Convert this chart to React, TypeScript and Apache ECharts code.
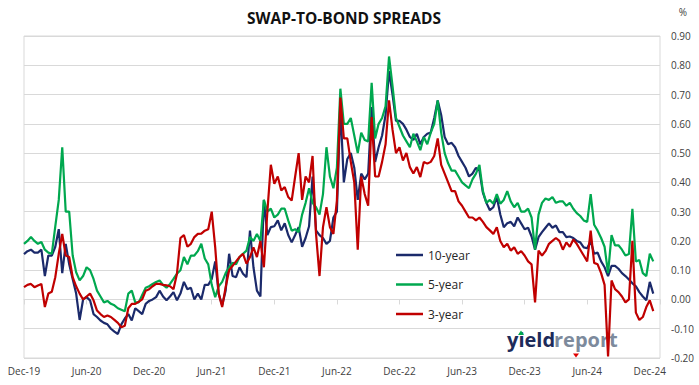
import React, { useEffect, useRef } from 'react';
import * as echarts from 'echarts';

// x axis: months since Dec-2019, one value every third of a month (~10 days)
const X_LABELS = ['Dec-19', 'Jun-20', 'Dec-20', 'Jun-21', 'Dec-21', 'Jun-22', 'Dec-22', 'Jun-23', 'Dec-23', 'Jun-24', 'Dec-24'];
const STEP_MONTHS = 1 / 3;
const SERIES_NAMES = ['10-year', '5-year', '3-year'];
const SERIES_COLORS = ['#1b2a6b', '#00a84f', '#c00000'];
const Y_TICKS = { min: -0.2, max: 0.9, interval: 0.1 };

const TEN_YEAR = [
  0.155, 0.165, 0.17, 0.16, 0.16, 0.17, 0.08, 0.15, 0.15, 0.18,
  0.24, 0.09, 0.19, 0.12, 0.07, 0.02, -0.07, 0.0, 0.008, -0.003,
  -0.05, -0.06, -0.072, -0.08, -0.085, -0.1, -0.11, -0.118, -0.085, -0.065,
  -0.05, -0.072, -0.03, -0.04, -0.05, -0.015, -0.005, 0.0, 0.008, 0.03,
  0.01, -0.003, 0.01, 0.025, -0.003, 0.02, 0.06, 0.035, 0.04, 0.0,
  0.02, 0.0, 0.05, 0.05, 0.07, 0.13, 0.02, -0.02, 0.03, 0.156,
  0.08, 0.076, 0.11, 0.088, 0.076, 0.235, 0.11, 0.03, 0.01, 0.34,
  0.22, 0.247, 0.25, 0.27, 0.236, 0.26, 0.22, 0.195, 0.22, 0.247,
  0.18, 0.21, 0.25, 0.42, 0.236, 0.22, 0.21, 0.19, 0.2, 0.28,
  0.3, 0.66, 0.4, 0.48, 0.5, 0.45, 0.34, 0.43, 0.41, 0.43,
  0.657, 0.47, 0.52, 0.56, 0.63, 0.78, 0.7, 0.61, 0.61, 0.6,
  0.58, 0.555, 0.545, 0.566, 0.53, 0.555, 0.566, 0.57, 0.62, 0.68,
  0.63, 0.555, 0.53, 0.535, 0.52, 0.49, 0.47, 0.45, 0.42, 0.43,
  0.45, 0.44, 0.365, 0.33, 0.305, 0.315, 0.35, 0.29, 0.247, 0.26,
  0.265, 0.25, 0.28, 0.26, 0.24, 0.245, 0.215, 0.17, 0.213, 0.23,
  0.245, 0.26, 0.245, 0.253, 0.23, 0.23, 0.213, 0.215, 0.21, 0.2,
  0.195, 0.178, 0.175, 0.2, 0.156, 0.16, 0.13, 0.11, 0.08, 0.115,
  0.115, 0.105, 0.09, 0.08, 0.068, 0.055, 0.045, 0.025, 0.01, -0.003,
  0.06, 0.02,
];

const FIVE_YEAR = [
  0.19, 0.2, 0.213, 0.2, 0.19, 0.196, 0.17, 0.16, 0.156, 0.25,
  0.34, 0.52, 0.3, 0.3, 0.15, 0.093, 0.065, 0.08, 0.11, 0.1,
  0.07, 0.03, 0.01, -0.01, -0.005, -0.015, -0.02, -0.03, -0.035, -0.04,
  0.02, 0.03, -0.01, -0.01, 0.015, 0.04, 0.045, 0.053, 0.06, 0.065,
  0.05, 0.04, 0.053, 0.07, 0.088, 0.1, 0.145, 0.12, 0.15, 0.15,
  0.165, 0.19, 0.14, 0.12, 0.05, 0.008, 0.045, 0.06, 0.09, 0.11,
  0.125, 0.12, 0.145, 0.156, 0.167, 0.213, 0.2, 0.224, 0.2, 0.34,
  0.3, 0.31, 0.28, 0.29, 0.31, 0.31, 0.27, 0.235, 0.24, 0.23,
  0.29, 0.33, 0.38, 0.33, 0.315, 0.29, 0.36, 0.52, 0.42, 0.38,
  0.45, 0.72, 0.6, 0.6, 0.62, 0.56, 0.5, 0.57, 0.545, 0.54,
  0.74, 0.55, 0.6, 0.62, 0.66, 0.83, 0.73, 0.62, 0.59, 0.56,
  0.54, 0.52, 0.566, 0.54, 0.51, 0.555, 0.53, 0.57, 0.6, 0.68,
  0.57, 0.5, 0.465, 0.44, 0.44, 0.42, 0.4, 0.39, 0.38, 0.41,
  0.43, 0.46, 0.37, 0.33, 0.34, 0.327, 0.36, 0.327, 0.34, 0.37,
  0.335, 0.315, 0.33, 0.3, 0.3, 0.31, 0.28, 0.17, 0.29, 0.33,
  0.345, 0.34, 0.35, 0.33, 0.335, 0.335, 0.32, 0.33, 0.31, 0.295,
  0.285, 0.27, 0.265, 0.36, 0.255, 0.235, 0.21, 0.18, 0.09, 0.22,
  0.185, 0.185, 0.17, 0.15, 0.155, 0.31, 0.13, 0.135, 0.09, 0.08,
  0.156, 0.13,
];

const THREE_YEAR = [
  0.042, 0.05, 0.053, 0.042, 0.048, 0.053, -0.026, 0.02, 0.026, 0.076,
  0.156, 0.224, 0.15, 0.145, 0.076, 0.045, 0.02, 0.0, 0.01, 0.02,
  -0.003, -0.038, -0.05, -0.06, -0.055, -0.06, -0.07, -0.08, -0.095, -0.09,
  -0.03, -0.015, -0.015, -0.008, 0.0, 0.03, 0.035, 0.045, 0.053, 0.053,
  0.05, 0.048, 0.045, 0.035, 0.088, 0.21, 0.22, 0.18, 0.19, 0.213,
  0.224, 0.225, 0.235, 0.24, 0.3, 0.178, 0.02, -0.026, 0.042, 0.1,
  0.115, 0.13, 0.145, 0.156, 0.122, 0.145, 0.178, 0.145, 0.2, 0.11,
  0.3, 0.46, 0.395, 0.42, 0.372, 0.384, 0.35, 0.338, 0.42, 0.5,
  0.34, 0.42, 0.4, 0.49, 0.224, 0.08, 0.247, 0.315, 0.247, 0.224,
  0.338, 0.69, 0.55, 0.55, 0.47, 0.4, 0.17, 0.42, 0.36, 0.32,
  0.623, 0.42, 0.42, 0.47, 0.53, 0.68, 0.58, 0.5, 0.52, 0.475,
  0.5, 0.452, 0.43, 0.452, 0.418, 0.47, 0.464, 0.47, 0.49, 0.55,
  0.46, 0.43, 0.4, 0.37, 0.37, 0.335, 0.32, 0.3, 0.28, 0.28,
  0.27, 0.28, 0.265, 0.247, 0.236, 0.224, 0.247, 0.2, 0.178, 0.19,
  0.167, 0.178, 0.156, 0.165, 0.15, 0.13, 0.12, -0.01, 0.167, 0.15,
  0.165, 0.19, 0.2, 0.21, 0.2, 0.17, 0.195, 0.18, 0.205, 0.19,
  0.17, 0.15, 0.13, 0.235, 0.125, 0.12, 0.09, 0.05, -0.195, 0.065,
  0.035, 0.025, 0.01, -0.01, 0.0, 0.2, -0.045, -0.07, -0.06, -0.026,
  -0.003, -0.04,
];

const FONT = '"Open Sans", "Liberation Sans", Arial, sans-serif';
const LABEL_COLOR = '#404040';
const GRID_COLOR = '#d9d9d9';

export default function App() {
  const ref = useRef<HTMLDivElement>(null);

  useEffect(() => {
    if (!ref.current) return;
    const chart = echarts.init(ref.current, null, { renderer: 'svg' });
    const toData = (arr: number[]) => arr.map((v, i) => [i * STEP_MONTHS, v]);
    const allSeries = [TEN_YEAR, FIVE_YEAR, THREE_YEAR];

    chart.setOption({
      animation: false,
      backgroundColor: '#ffffff',
      grid: {
        left: 24,
        right: 39,
        top: 36,
        bottom: 27,
        show: true,
        borderColor: GRID_COLOR,
        borderWidth: 1,
      },
      legend: {
        orient: 'vertical',
        left: 396,
        top: 248,
        padding: 0,
        icon: 'rect',
        itemWidth: 27,
        itemHeight: 2.5,
        itemGap: 15.5,
        data: SERIES_NAMES,
        textStyle: { fontFamily: FONT, fontSize: 12, lineHeight: 14, color: '#262626' },
      },
      xAxis: {
        type: 'value',
        min: 0,
        max: 60.98,
        interval: 6,
        axisLine: { show: true, lineStyle: { color: GRID_COLOR } },
        axisTick: { show: true, length: 5, lineStyle: { color: GRID_COLOR } },
        splitLine: { show: false },
        axisLabel: {
          margin: 8,
          fontFamily: FONT,
          fontSize: 10,
          color: LABEL_COLOR,
          formatter: (v: number) => {
            const k = v / 6;
            if (Math.abs(k - Math.round(k)) > 1e-6) return '';
            return X_LABELS[Math.round(k)] ?? '';
          },
        },
      },
      yAxis: {
        type: 'value',
        position: 'right',
        min: Y_TICKS.min,
        max: Y_TICKS.max,
        interval: Y_TICKS.interval,
        axisLine: { show: false },
        axisTick: { show: false },
        splitLine: { show: true, lineStyle: { color: GRID_COLOR, width: 1 } },
        axisLabel: {
          margin: 11,
          fontFamily: FONT,
          fontSize: 10,
          color: LABEL_COLOR,
          formatter: (v: number) => {
            const r = Math.round(v * 100) / 100;
            return (Math.abs(r) < 1e-9 ? 0 : r).toFixed(2);
          },
        },
      },
      series: allSeries.map((arr, idx) => ({
        name: SERIES_NAMES[idx],
        type: 'line',
        data: toData(arr),
        symbol: 'none',
        showSymbol: false,
        clip: true,
        color: SERIES_COLORS[idx],
        lineStyle: { color: SERIES_COLORS[idx], width: 2.2 },
        z: 2 + idx,
      })),
      graphic: [
        {
          type: 'text',
          x: 344,
          y: 18,
          style: {
            text: 'SWAP-TO-BOND SPREADS',
            fontFamily: FONT,
            fontSize: 15.5,
            fontWeight: 'bold',
            fill: '#111111',
            align: 'center',
            verticalAlign: 'middle',
          },
        },
        {
          type: 'text',
          x: 683,
          y: 12,
          style: {
            text: '%',
            fontFamily: FONT,
            fontSize: 10,
            fill: LABEL_COLOR,
            align: 'center',
            verticalAlign: 'middle',
          },
        },
        {
          type: 'group',
          z: 100,
          children: [
            {
              type: 'rect',
              shape: { x: 503, y: 331, width: 114, height: 22 },
              style: { fill: '#ffffff' },
            },
            {
              type: 'text',
              x: 507,
              y: 339.5,
              style: {
                text: 'yield',
                fontFamily: FONT,
                fontSize: 20,
                fontWeight: 'bold',
                fill: '#1d2b5a',
                align: 'left',
                verticalAlign: 'middle',
              },
            },
            {
              type: 'text',
              x: 554,
              y: 339.5,
              style: {
                text: 'report',
                fontFamily: FONT,
                fontSize: 20,
                fontWeight: 'bold',
                fill: '#7d8a9c',
                align: 'left',
                verticalAlign: 'middle',
              },
            },
            {
              type: 'polygon',
              shape: { points: [[518, 335], [524, 335], [521, 330.5]] },
              style: { fill: '#00a84f' },
            },
            {
              type: 'polygon',
              shape: { points: [[573, 353.5], [579, 353.5], [576, 357.5]] },
              style: { fill: '#e00000' },
            },
          ],
        },
      ],
    });

    return () => {
      chart.dispose();
    };
  }, []);

  return (
    <div
      ref={ref}
      style={{ position: 'absolute', left: 0, top: 0, width: 699, height: 385 }}
    />
  );
}
